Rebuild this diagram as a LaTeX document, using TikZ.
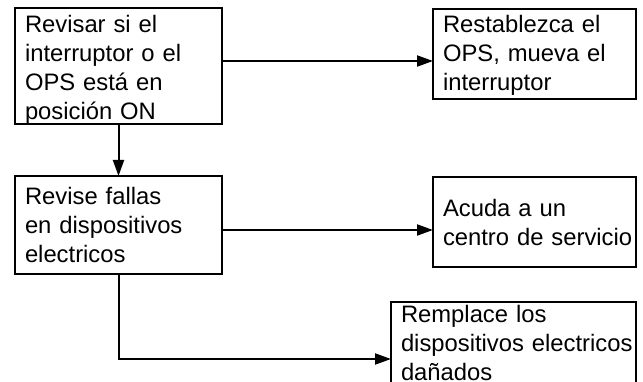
\documentclass[tikz,border=0pt]{standalone}
\usepackage{fontspec}
\setmainfont{Liberation Sans}
\usetikzlibrary{arrows.meta}
\newcommand{\cajafont}{\fontsize{23.8pt}{28.7pt}\selectfont}
\begin{document}
\begin{tikzpicture}[x=1pt,y=-1pt,
	caja/.style={draw, line width=2.5pt, anchor=north west, outer sep=0pt,
		inner xsep=10pt, inner ysep=0pt, align=left, font=\cajafont},
	flecha/.style={line width=2pt, -{Triangle[length=16pt,width=11pt]}}]
	
	\useasboundingbox (0,0) rectangle (643,382);
	
	\node[caja, text width=187pt, text height=25pt, text depth=91pt] (revisar) at (15,8)
		{Revisar si el\\interruptor o el\\OPS está en\\posición ON};
	
	\node[caja, text width=183pt, text height=24pt, text depth=66pt] (restablezca) at (433,9)
		{Restablezca el\\OPS, mueva el\\interruptor};
	
	\node[caja, text width=187pt, text height=29pt, text depth=69pt] (fallas) at (15,176)
		{Revise fallas\\en dispositivos\\electricos};
	
	\node[caja, text width=183pt, text height=40pt, text depth=50pt] (acuda) at (433,177)
		{Acuda a un\\\mbox{centro de servicio}};
	
	\node[caja, text width=225pt, text height=21pt, text depth=93pt] (remplace) at (391,302)
		{Remplace los\\\mbox{dispositivos electricos}\\dañados};
	
	\coordinate (s1) at ([yshift=5pt]revisar.east);
	\coordinate (s3) at ([yshift=-5pt]fallas.east);
	
	\draw[flecha] (s1) -- (s1 -| restablezca.west);
	
	\draw[flecha] (revisar.south) -- (fallas.north);
	
	\draw[flecha] (s3) -- (s3 -| acuda.west);
	
	\draw[flecha] (fallas.south) |- (remplace.west);
	
\end{tikzpicture}
\end{document}
